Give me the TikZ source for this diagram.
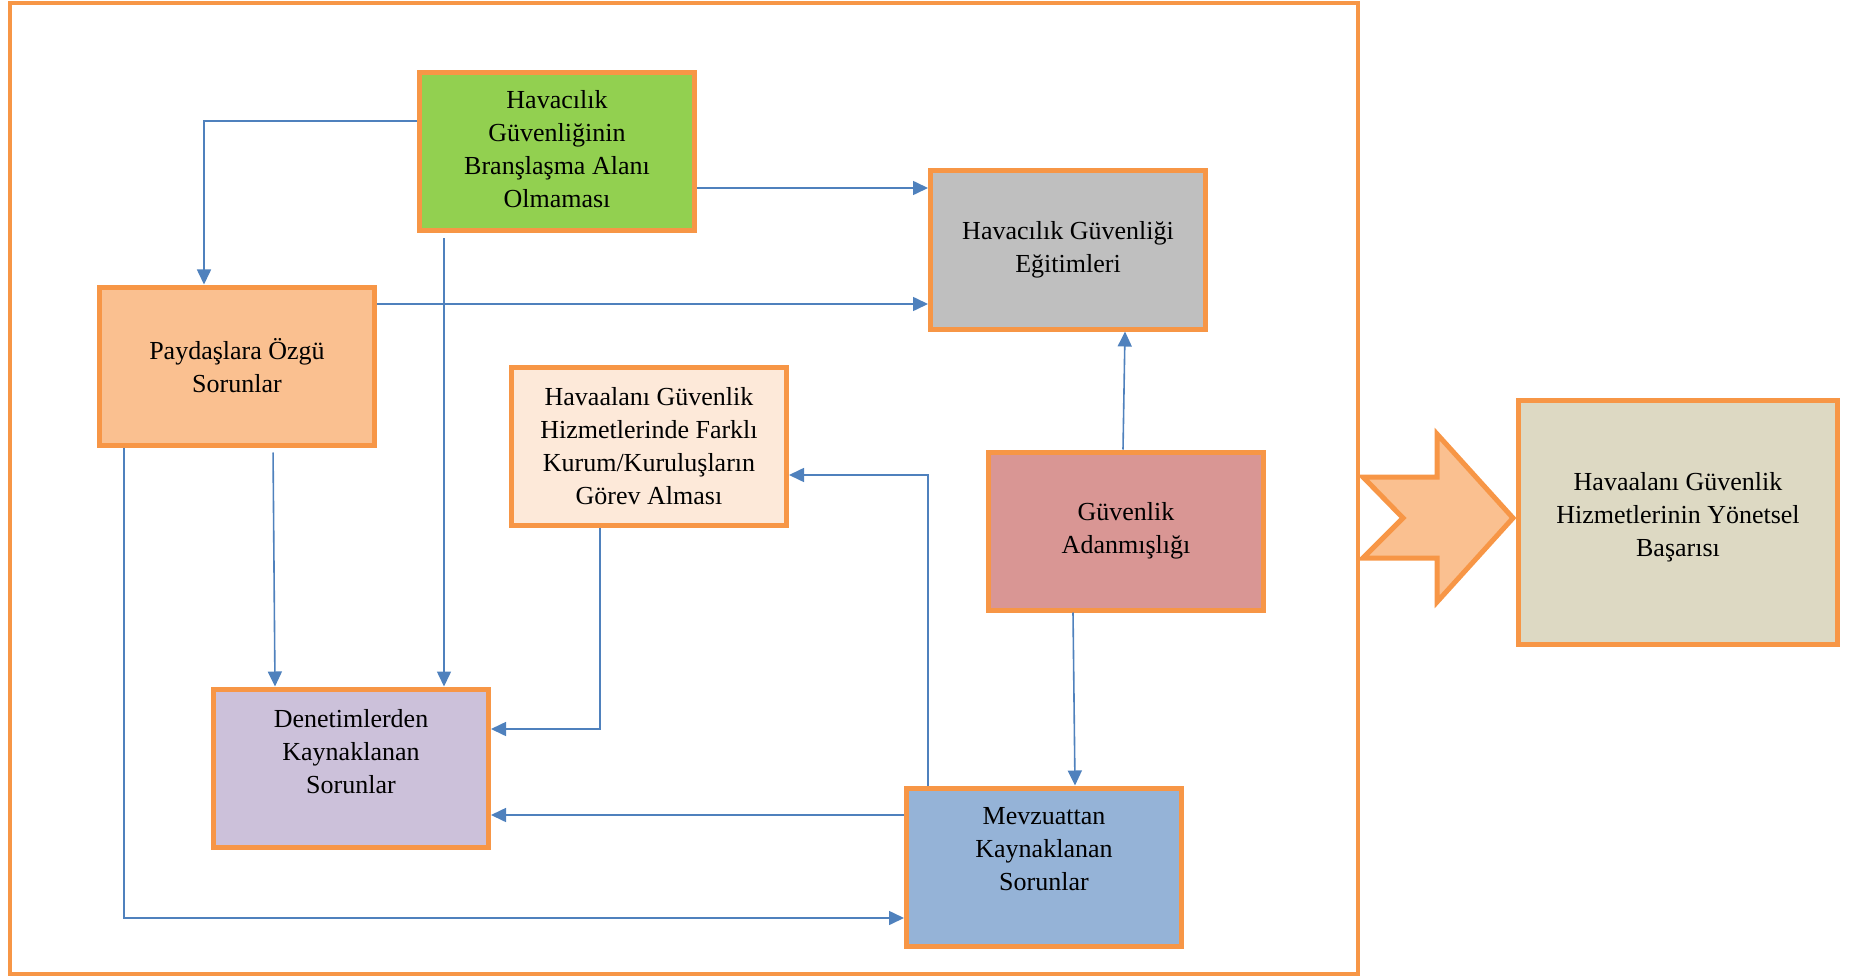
\documentclass[tikz,border=0pt]{standalone}
\usepackage{fontspec}
\setmainfont{Liberation Serif}
\usetikzlibrary{arrows.meta}
\definecolor{turuncu}{HTML}{F79646}
\definecolor{okmavi}{HTML}{4F81BD}
\definecolor{yesil}{HTML}{92D050}
\definecolor{gri}{HTML}{BFBFBF}
\definecolor{somon}{HTML}{FAC090}
\definecolor{seftali}{HTML}{FDE9D9}
\definecolor{gul}{HTML}{D99694}
\definecolor{lavanta}{HTML}{CCC1DA}
\definecolor{mavi}{HTML}{95B3D7}
\definecolor{bej}{HTML}{DDD9C3}
\begin{document}
\begin{tikzpicture}[x=1pt,y=-1pt,
  kutu/.style={draw=turuncu,line width=5pt,minimum width=275pt,minimum height=158pt,
    align=center,font=\fontsize{26}{33}\selectfont},
  yukari/.style={text depth=#1},
  ok/.style={okmavi,line width=1.6pt,-{Triangle[length=15pt,width=14pt]}}]
\useasboundingbox (0,0) rectangle (1857,976);
% cerceve
\draw[turuncu,line width=4pt] (9.5,3.5) rectangle (1358,973.5);
% kutular
\node[kutu,fill=yesil,yukari=7pt] (brans) at (557,152) {Havacılık\\Güvenliğinin\\Branşlaşma Alanı\\Olmaması};
\node[kutu,fill=gri] (egitim) at (1068,250) {Havacılık Güvenliği\\Eğitimleri};
\node[kutu,fill=somon] (paydas) at (237,366) {Paydaşlara Özgü\\Sorunlar};
\node[kutu,fill=seftali] (kurum) at (649,446) {Havaalanı Güvenlik\\Hizmetlerinde Farklı\\Kurum/Kuruluşların\\Görev Alması};
\node[kutu,fill=gul] (adanma) at (1126,531) {Güvenlik\\Adanmışlığı};
\node[kutu,fill=lavanta,yukari=34pt] (denetim) at (351,768) {Denetimlerden\\Kaynaklanan\\Sorunlar};
\node[kutu,fill=mavi,yukari=36pt] (mevzuat) at (1044,867) {Mevzuattan\\Kaynaklanan\\Sorunlar};
\node[kutu,fill=bej,minimum width=319pt,minimum height=244pt,yukari=16pt] (basari) at (1678,522) {Havaalanı Güvenlik\\Hizmetlerinin Yönetsel\\Başarısı};
% buyuk ok
\draw[turuncu,fill=somon,line width=5pt,line join=miter] (1363,477) -- (1437,477) -- (1437,434) -- (1513,518)
  -- (1437,602) -- (1437,558) -- (1363,558) -- (1403,518) -- cycle;
% baglantilar
\draw[ok] (brans.west |- 0,121) -| (paydas.north -| 204,0);
\draw[ok] (brans.east |- 0,188) -- (egitim.west |- 0,188);
\draw[ok] (paydas.east |- 0,304) -- (egitim.west |- 0,304);
\draw[ok,shorten <=5pt] (brans.south -| 444,0) -- (denetim.north -| 444,0);
\draw[ok,shorten <=5pt] (paydas.south -| 273,0) -- (denetim.north -| 275,0);
\draw[ok] (paydas.south -| 124,0) |- (mevzuat.west |- 0,918);
\draw[ok] (kurum.south -| 600,0) |- (denetim.east |- 0,729);
\draw[ok] (mevzuat.north -| 928,0) |- (kurum.east |- 0,475);
\draw[ok] (mevzuat.west |- 0,815) -- (denetim.east |- 0,815);
\draw[ok] (adanma.south -| 1073,0) -- (mevzuat.north -| 1075,0);
\draw[ok] (adanma.north -| 1123,0) -- (egitim.south -| 1125,0);
\end{tikzpicture}
\end{document}
